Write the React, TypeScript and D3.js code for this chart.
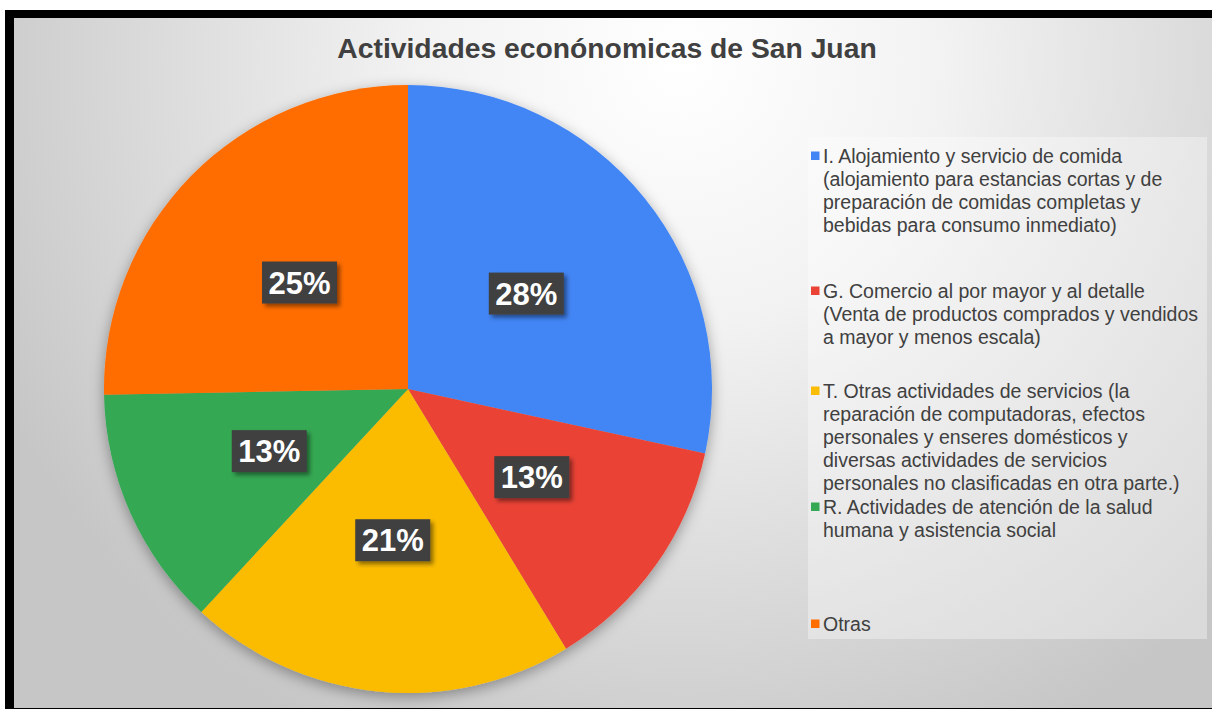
import React from "react";
import * as d3 from "d3";

const categories = [
  ["I. Alojamiento y servicio de comida", "(alojamiento para estancias cortas y de", "preparación de comidas completas y", "bebidas para consumo inmediato)"],
  ["G. Comercio al por mayor y al detalle", "(Venta de productos comprados y vendidos", "a mayor y menos escala)"],
  ["T. Otras actividades de servicios (la", "reparación de computadoras, efectos", "personales y enseres domésticos y", "diversas actividades de servicios", "personales no clasificadas en otra parte.)"],
  ["R. Actividades de atención de la salud", "humana y asistencia social"],
  ["Otras"],
];
const values = [28.4, 12.9, 20.6, 12.8, 25.3];
const colors = ["#4285F4", "#EA4335", "#FBBC04", "#34A853", "#FF6D01"];
const legendTops = [156, 291, 391, 507, 624];
const title = "Actividades econónomicas de San Juan";

export default function App() {
  const W = 1212, H = 711;
  const cx = 408, cy = 389, r = 304;
  const pie = d3.pie<number>().sort(null).value((d) => d)(values);
  const arc = d3.arc<d3.PieArcDatum<number>>().innerRadius(0).outerRadius(r);
  const total = d3.sum(values);
  const font = "'Liberation Sans', Arial, sans-serif";
  const lineH = 23;
  return (
    <div style={{ position: "fixed", left: 0, top: 0 }}>
      <svg width={W} height={H} style={{ display: "block" }}>
        <defs>
          <radialGradient id="bg" gradientUnits="userSpaceOnUse" cx={680} cy={60} r={760}>
            <stop offset="0" stopColor="#ffffff" />
            <stop offset="0.35" stopColor="#f2f2f2" />
            <stop offset="1" stopColor="#c6c6c6" />
          </radialGradient>
          <filter id="pieShadow" x="-20%" y="-20%" width="140%" height="140%">
            <feDropShadow dx="0" dy="4" stdDeviation="7" floodColor="#000" floodOpacity="0.35" />
          </filter>
          <filter id="boxShadow" x="-20%" y="-20%" width="150%" height="150%">
            <feDropShadow dx="3" dy="3" stdDeviation="2" floodColor="#000" floodOpacity="0.45" />
          </filter>
        </defs>
        <rect x={0} y={0} width={W} height={H} fill="#ffffff" />
        <rect x={5} y={10} width={W - 5} height={699} fill="#000" />
        <rect x={14} y={18} width={W - 14} height={690} fill="url(#bg)" />
        <text x={607} y={58} textAnchor="middle" fontFamily={font} fontWeight="bold" fontSize={28.3} fill="#404040">
          {title}
        </text>
        <g transform={`translate(${cx},${cy})`}>
          <g filter="url(#pieShadow)">
            {pie.map((p, i) => (
              <path key={i} d={arc(p) || ""} fill={colors[i]} />
            ))}
          </g>
          {pie.map((p, i) => {
            const [x, y] = arc.centroid(p);
            const label = `${Math.round((p.value / total) * 100)}%`;
            return (
              <g key={i} transform={`translate(${x},${y})`}>
                <rect x={-37.5} y={-21} width={75} height={42} fill="#404040" filter="url(#boxShadow)" />
                <text x={0} y={11} textAnchor="middle" fontFamily={font} fontWeight="bold" fontSize={31} fill="#ffffff">
                  {label}
                </text>
              </g>
            );
          })}
        </g>
        <rect x={808} y={137} width={399} height={502} fill="#ffffff" opacity={0.35} />
        {categories.map((lines, i) => (
          <g key={i}>
            <rect x={811} y={legendTops[i] - 4.5} width={8.5} height={8.5} fill={colors[i]} />
            {lines.map((t, j) => (
              <text key={j} x={823} y={legendTops[i] + 7 + j * lineH} fontFamily={font} fontSize={19.5} fill="#404040">
                {t}
              </text>
            ))}
          </g>
        ))}
      </svg>
    </div>
  );
}
